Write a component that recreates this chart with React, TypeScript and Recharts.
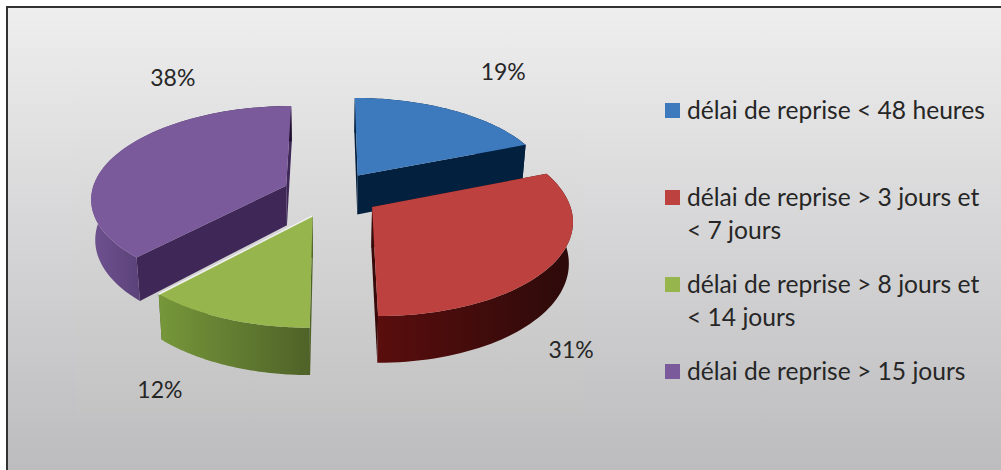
import { Legend, Pie, PieChart } from "recharts";

const categories = [
  "délai de reprise < 48 heures",
  "délai de reprise > 3 jours et < 7 jours",
  "délai de reprise > 8 jours et < 14 jours",
  "délai de reprise > 15 jours",
];
const shares = [19, 31, 12, 38];

const topColors = ["#3d79bd", "#bd423f", "#97b54d", "#7a5a9a"];
const wallColors = ["#04203f", "#3a0a0a", "#4f6228", "#3f2858"];
const rimLeft = ["#04203f", "#5a0d0d", "#76973a", "#6f5291"];
const rimRight = ["#04203f", "#2c0a0a", "#4f6228", "#1f0e2d"];
const labelShift = [
  [51, -39],
  [19, 84],
  [-66, 70],
  [56, -77],
];

const data = categories.map((name, i) => ({ name, value: shares[i], fill: topColors[i] }));

// 3d look: the disc is tipped back, with a bit of perspective
const TILT = 0.47;
const PERSP = 0.126;
const EXPLODE = 0.25;
const DEPTH = 40;
const SHRINK = 0.017;
const GREEN = 2;

function project(cx: number, cy: number, r: number, u: number, v: number, down: number) {
  const w = 1 - PERSP * v;
  const x = (r * u) / w;
  const y = (TILT * r * v) / w;
  return [cx + x * (1 - SHRINK * down), cy + y + (DEPTH * down) / w];
}

const dir = (deg: number) => {
  const a = ((90 - deg) * Math.PI) / 180;
  return [Math.sin(a), -Math.cos(a)];
};

const toPath = (pts: number[][]) =>
  "M" + pts.map((p) => p[0].toFixed(2) + "," + p[1].toFixed(2)).join("L") + "Z";

function Slice3D(props: any) {
  const { cx, cy, outerRadius, startAngle, endAngle, index } = props;
  const mid = dir((startAngle + endAngle) / 2);
  const u0 = EXPLODE * mid[0];
  const v0 = EXPLODE * mid[1];
  const at = (deg: number, radius: number, down: number) => {
    const d = dir(deg);
    return project(cx, cy, outerRadius, u0 + radius * d[0], v0 + radius * d[1], down);
  };
  const arc = (down: number) => {
    const pts = [];
    for (let i = 0; i <= 60; i++) pts.push(at(startAngle + ((endAngle - startAngle) * i) / 60, 1, down));
    return pts;
  };
  const apex = at(startAngle, 0, 0);
  const apexLow = at(startAngle, 0, 1);
  const top = arc(0);
  const low = arc(1);
  const gradId = "rim" + index;
  return (
    <g>
      <defs>
        <linearGradient id={gradId} x1="0" y1="0" x2="1" y2="0">
          <stop offset="0%" stopColor={rimLeft[index]} />
          <stop offset="100%" stopColor={rimRight[index]} />
        </linearGradient>
      </defs>
      <path d={toPath([apex, top[0], low[0], apexLow])} fill={wallColors[index]} />
      <path d={toPath([apex, top[60], low[60], apexLow])} fill={wallColors[index]} />
      <path d={toPath([...top, ...low.slice().reverse()])} fill={`url(#${gradId})`} />
      <path d={toPath([apex, ...top])} fill={topColors[index]} />
      {index === GREEN && (
        <line
          x1={apex[0]}
          y1={apex[1]}
          x2={top[60][0]}
          y2={top[60][1]}
          stroke="#f2f2f2"
          strokeWidth={1.5}
        />
      )}
    </g>
  );
}

function percentLabel(props: any) {
  const { cx, cy, outerRadius, midAngle, index } = props;
  const d = dir(midAngle);
  const p = project(cx, cy, outerRadius, 1.25 * d[0], 1.25 * d[1], 0);
  return (
    <text
      x={p[0] + labelShift[index][0]}
      y={p[1] + labelShift[index][1]}
      textAnchor="middle"
      dominantBaseline="central"
      fontFamily="Lato"
      fontSize={23}
      fill="#262626"
    >
      {shares[index]}%
    </text>
  );
}

function LegendBlock({ payload }: any) {
  return (
    <div style={{ fontFamily: "Lato", fontSize: 24.6, lineHeight: "33px", color: "#262626" }}>
      {(payload || []).map((entry: any) => (
        <div key={entry.value} style={{ position: "relative", height: 87, width: 305, paddingLeft: 22 }}>
          <span
            style={{ position: "absolute", left: 0, top: 10, width: 15, height: 15, background: entry.color }}
          />
          {entry.value}
        </div>
      ))}
    </div>
  );
}

export default function App() {
  return (
    <div
      style={{
        position: "absolute",
        left: 0,
        top: 0,
        width: 1001,
        height: 470,
        overflow: "hidden",
        background: "#fff",
      }}
    >
      <div
        style={{
          position: "absolute",
          left: 6,
          top: 6,
          width: 995,
          height: 464,
          borderTop: "2px solid #333",
          borderLeft: "2px solid #333",
          background: "linear-gradient(#eeeeef, #bcbcbe)",
        }}
      />
      {/* plot area box, barely visible in the original */}
      <div
        style={{
          position: "absolute",
          left: 77,
          top: 50,
          width: 506,
          height: 364,
          background: "linear-gradient(rgba(205,205,180,0), rgba(205,205,180,0.08))",
        }}
      />
      <div style={{ position: "absolute", left: 0, top: 0 }}>
        <PieChart width={1001} height={470} margin={{ top: 0, right: 0, bottom: 0, left: 0 }}>
          <Pie
            data={data}
            dataKey="value"
            nameKey="name"
            cx={331}
            cy={194}
            outerRadius={195}
            startAngle={90}
            endAngle={-270}
            isAnimationActive={false}
            stroke="none"
            shape={Slice3D}
            inactiveShape={Slice3D}
            activeShape={Slice3D}
            label={percentLabel}
            labelLine={false}
          />
          <Legend
            layout="vertical"
            align="right"
            verticalAlign="top"
            itemSorter={null}
            content={LegendBlock}
            wrapperStyle={{ position: "absolute", left: 665, top: 93, width: 330 }}
          />
        </PieChart>
      </div>
    </div>
  );
}
